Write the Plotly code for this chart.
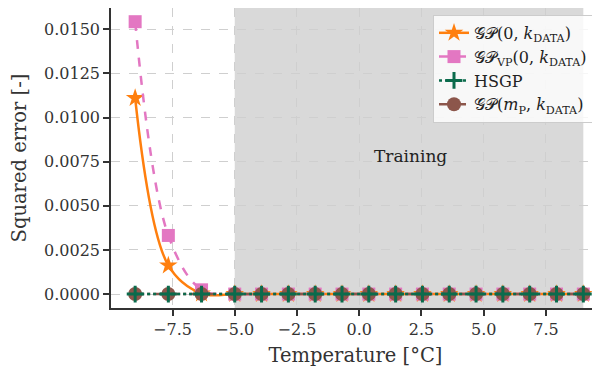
import plotly.graph_objects as go

# Data
temperature = [-9.0, -7.667, -6.333, -5.0, -3.923, -2.846, -1.769, -0.692, 0.385,
               1.462, 2.538, 3.615, 4.692, 5.769, 6.846, 7.923, 9.0]
gp_zero = [0.01110, 0.00162, 0.00003, 0, 0, 0, 0, 0, 0, 0, 0, 0, 0, 0, 0, 0, 0]
gp_vp = [0.01543, 0.00332, 0.00024, 0, 0, 0, 0, 0, 0, 0, 0, 0, 0, 0, 0, 0, 0]
hsgp = [0.0] * 17
gp_mp = [0.0] * 17
training_range = [-5.0, 9.0]

ORANGE = "#ff7f0e"
PINK = "#e377c2"
GREEN = "#0b6b4c"
BROWN = "#8c564b"
FONT = "DejaVu Serif"

fig = go.Figure()
fig.add_trace(go.Scatter(
    x=temperature, y=gp_zero, mode="lines+markers", line_shape="spline",
    name="𝒢𝒫(0, <i>k</i><sub>DATA</sub>)", legendrank=1,
    line=dict(color=ORANGE, width=2.5),
    marker=dict(symbol="star", size=14, color=ORANGE, line=dict(width=0))))
fig.add_trace(go.Scatter(
    x=temperature, y=gp_vp, mode="lines+markers", line_shape="spline",
    name="𝒢𝒫<sub>VP</sub>(0, <i>k</i><sub>DATA</sub>)", legendrank=2,
    line=dict(color=PINK, width=2.5, dash="dash"),
    marker=dict(symbol="square", size=13, color=PINK, line=dict(width=0))))
fig.add_trace(go.Scatter(
    x=temperature, y=gp_mp, mode="lines+markers",
    name="𝒢𝒫(<i>m</i><sub>P</sub>, <i>k</i><sub>DATA</sub>)", legendrank=4,
    line=dict(color=BROWN, width=2.5, dash="dashdot"),
    marker=dict(symbol="circle", size=14, color=BROWN, line=dict(width=0))))
fig.add_trace(go.Scatter(
    x=temperature, y=hsgp, mode="lines+markers",
    name="HSGP", legendrank=3,
    line=dict(color=GREEN, width=2.5, dash="dot"),
    marker=dict(symbol="cross-thin", size=12, color=GREEN,
                line=dict(width=3, color=GREEN))))

fig.add_shape(type="rect", xref="x", yref="paper",
              x0=training_range[0], x1=training_range[1], y0=0, y1=1,
              fillcolor="#d9d9d9", line=dict(width=0), layer="below")
fig.add_annotation(x=2.04, y=0.0078, text="Training", showarrow=False,
                   font=dict(family=FONT, size=17, color="#222"))

axis_common = dict(
    showline=True, linecolor="#333", linewidth=1.5,
    ticks="outside", ticklen=6, tickwidth=1.5, tickcolor="#333",
    showgrid=True, gridcolor="#cfcfcf", griddash="dash", gridwidth=0.8,
    zeroline=False, mirror=False, automargin=False,
    tickfont=dict(family=FONT, size=16, color="#333"),
)
fig.update_xaxes(range=[-9.97, 9.67], dtick=2.5, tick0=0, tickformat=".1f",
                 title=dict(text="Temperature [°C]", font=dict(family=FONT, size=19.5, color="#333"),
                            standoff=10),
                 **axis_common)
fig.update_yaxes(range=[-0.00079, 0.016206], dtick=0.0025, tick0=0, tickformat=".4f",
                 title=dict(text="Squared error [-]", font=dict(family=FONT, size=19.5, color="#333"),
                            standoff=14),
                 **axis_common)

fig.update_layout(
    width=600, height=377,
    margin=dict(l=103, r=8, t=0, b=77),
    plot_bgcolor="white", paper_bgcolor="white",
    font=dict(family=FONT, color="#333"),
    legend=dict(x=0.9857, y=0.977, xanchor="right", yanchor="top",
                bgcolor="rgba(255,255,255,0.8)", bordercolor="#cccccc", borderwidth=1,
                font=dict(family=FONT, size=16, color="#222"),
                tracegroupgap=0, itemwidth=30),
)

fig.write_html("out.html")
